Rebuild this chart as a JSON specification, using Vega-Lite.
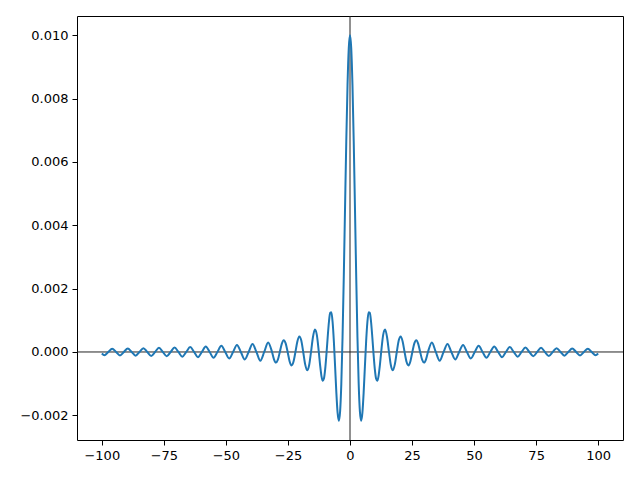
{
  "$schema": "https://vega.github.io/schema/vega-lite/v6.json",
  "width": 546,
  "height": 424,
  "autosize": {"type": "none"},
  "padding": {"left": 77, "top": 16, "right": 17, "bottom": 40},
  "background": "white",
  "data": {
    "values": [
      {"x": -100, "y": -0.000051},
      {"x": -98.96, "y": -0.000101},
      {"x": -97.39, "y": 0},
      {"x": -95.82, "y": 0.000104},
      {"x": -94.25, "y": 0},
      {"x": -92.68, "y": -0.000108},
      {"x": -91.11, "y": 0},
      {"x": -89.54, "y": 0.000112},
      {"x": -87.96, "y": 0},
      {"x": -86.39, "y": -0.000116},
      {"x": -84.82, "y": 0},
      {"x": -83.25, "y": 0.00012},
      {"x": -81.68, "y": 0},
      {"x": -80.11, "y": -0.000125},
      {"x": -78.54, "y": 0},
      {"x": -76.97, "y": 0.00013},
      {"x": -75.4, "y": 0},
      {"x": -73.83, "y": -0.000135},
      {"x": -72.26, "y": 0},
      {"x": -70.69, "y": 0.000141},
      {"x": -69.12, "y": 0},
      {"x": -67.54, "y": -0.000148},
      {"x": -65.97, "y": 0},
      {"x": -64.4, "y": 0.000155},
      {"x": -62.83, "y": 0},
      {"x": -61.26, "y": -0.000163},
      {"x": -59.69, "y": 0},
      {"x": -58.12, "y": 0.000172},
      {"x": -56.55, "y": 0},
      {"x": -54.98, "y": -0.000182},
      {"x": -53.41, "y": 0},
      {"x": -51.84, "y": 0.000193},
      {"x": -50.27, "y": 0},
      {"x": -48.69, "y": -0.000205},
      {"x": -47.12, "y": 0},
      {"x": -45.55, "y": 0.00022},
      {"x": -43.98, "y": 0},
      {"x": -42.41, "y": -0.000236},
      {"x": -40.84, "y": 0},
      {"x": -39.27, "y": 0.000255},
      {"x": -37.7, "y": 0},
      {"x": -36.13, "y": -0.000277},
      {"x": -34.56, "y": 0},
      {"x": -32.99, "y": 0.000303},
      {"x": -31.42, "y": 0},
      {"x": -30.63, "y": -0.000231},
      {"x": -29.85, "y": -0.000335},
      {"x": -29.06, "y": -0.000243},
      {"x": -28.27, "y": 0},
      {"x": -27.49, "y": 0.000257},
      {"x": -26.7, "y": 0.000374},
      {"x": -25.92, "y": 0.000273},
      {"x": -25.13, "y": 0},
      {"x": -24.35, "y": -0.00029},
      {"x": -23.56, "y": -0.000424},
      {"x": -22.78, "y": -0.00031},
      {"x": -21.99, "y": 0},
      {"x": -21.21, "y": 0.000333},
      {"x": -20.42, "y": 0.00049},
      {"x": -19.63, "y": 0.00036},
      {"x": -18.85, "y": 0},
      {"x": -18.06, "y": -0.000392},
      {"x": -17.28, "y": -0.000579},
      {"x": -16.49, "y": -0.000429},
      {"x": -15.71, "y": 0},
      {"x": -14.92, "y": 0.000474},
      {"x": -14.14, "y": 0.000707},
      {"x": -13.35, "y": 0.00053},
      {"x": -12.57, "y": 0},
      {"x": -12, "y": -0.000447},
      {"x": -11.5, "y": -0.000761},
      {"x": -11, "y": -0.000909},
      {"x": -10.5, "y": -0.000838},
      {"x": -10, "y": -0.000544},
      {"x": -9.5, "y": -0.000079},
      {"x": -9, "y": 0.000458},
      {"x": -8.5, "y": 0.000939},
      {"x": -8, "y": 0.001237},
      {"x": -7.5, "y": 0.001251},
      {"x": -7, "y": 0.000939},
      {"x": -6.5, "y": 0.000331},
      {"x": -6, "y": -0.000466},
      {"x": -5.5, "y": -0.001283},
      {"x": -5, "y": -0.001918},
      {"x": -4.5, "y": -0.002172},
      {"x": -4, "y": -0.001892},
      {"x": -3.5, "y": -0.001002},
      {"x": -3, "y": 0.00047},
      {"x": -2.5, "y": 0.002394},
      {"x": -2, "y": 0.004546},
      {"x": -1.5, "y": 0.00665},
      {"x": -1, "y": 0.008415},
      {"x": -0.5, "y": 0.009589},
      {"x": 0, "y": 0.01},
      {"x": 0.5, "y": 0.009589},
      {"x": 1, "y": 0.008415},
      {"x": 1.5, "y": 0.00665},
      {"x": 2, "y": 0.004546},
      {"x": 2.5, "y": 0.002394},
      {"x": 3, "y": 0.00047},
      {"x": 3.5, "y": -0.001002},
      {"x": 4, "y": -0.001892},
      {"x": 4.5, "y": -0.002172},
      {"x": 5, "y": -0.001918},
      {"x": 5.5, "y": -0.001283},
      {"x": 6, "y": -0.000466},
      {"x": 6.5, "y": 0.000331},
      {"x": 7, "y": 0.000939},
      {"x": 7.5, "y": 0.001251},
      {"x": 8, "y": 0.001237},
      {"x": 8.5, "y": 0.000939},
      {"x": 9, "y": 0.000458},
      {"x": 9.5, "y": -0.000079},
      {"x": 10, "y": -0.000544},
      {"x": 10.5, "y": -0.000838},
      {"x": 11, "y": -0.000909},
      {"x": 11.5, "y": -0.000761},
      {"x": 12, "y": -0.000447},
      {"x": 12.57, "y": 0},
      {"x": 13.35, "y": 0.00053},
      {"x": 14.14, "y": 0.000707},
      {"x": 14.92, "y": 0.000474},
      {"x": 15.71, "y": 0},
      {"x": 16.49, "y": -0.000429},
      {"x": 17.28, "y": -0.000579},
      {"x": 18.06, "y": -0.000392},
      {"x": 18.85, "y": 0},
      {"x": 19.63, "y": 0.00036},
      {"x": 20.42, "y": 0.00049},
      {"x": 21.21, "y": 0.000333},
      {"x": 21.99, "y": 0},
      {"x": 22.78, "y": -0.00031},
      {"x": 23.56, "y": -0.000424},
      {"x": 24.35, "y": -0.00029},
      {"x": 25.13, "y": 0},
      {"x": 25.92, "y": 0.000273},
      {"x": 26.7, "y": 0.000374},
      {"x": 27.49, "y": 0.000257},
      {"x": 28.27, "y": 0},
      {"x": 29.06, "y": -0.000243},
      {"x": 29.85, "y": -0.000335},
      {"x": 30.63, "y": -0.000231},
      {"x": 31.42, "y": 0},
      {"x": 32.99, "y": 0.000303},
      {"x": 34.56, "y": 0},
      {"x": 36.13, "y": -0.000277},
      {"x": 37.7, "y": 0},
      {"x": 39.27, "y": 0.000255},
      {"x": 40.84, "y": 0},
      {"x": 42.41, "y": -0.000236},
      {"x": 43.98, "y": 0},
      {"x": 45.55, "y": 0.00022},
      {"x": 47.12, "y": 0},
      {"x": 48.69, "y": -0.000205},
      {"x": 50.27, "y": 0},
      {"x": 51.84, "y": 0.000193},
      {"x": 53.41, "y": 0},
      {"x": 54.98, "y": -0.000182},
      {"x": 56.55, "y": 0},
      {"x": 58.12, "y": 0.000172},
      {"x": 59.69, "y": 0},
      {"x": 61.26, "y": -0.000163},
      {"x": 62.83, "y": 0},
      {"x": 64.4, "y": 0.000155},
      {"x": 65.97, "y": 0},
      {"x": 67.54, "y": -0.000148},
      {"x": 69.12, "y": 0},
      {"x": 70.69, "y": 0.000141},
      {"x": 72.26, "y": 0},
      {"x": 73.83, "y": -0.000135},
      {"x": 75.4, "y": 0},
      {"x": 76.97, "y": 0.00013},
      {"x": 78.54, "y": 0},
      {"x": 80.11, "y": -0.000125},
      {"x": 81.68, "y": 0},
      {"x": 83.25, "y": 0.00012},
      {"x": 84.82, "y": 0},
      {"x": 86.39, "y": -0.000116},
      {"x": 87.96, "y": 0},
      {"x": 89.54, "y": 0.000112},
      {"x": 91.11, "y": 0},
      {"x": 92.68, "y": -0.000108},
      {"x": 94.25, "y": 0},
      {"x": 95.82, "y": 0.000104},
      {"x": 97.39, "y": 0},
      {"x": 98.96, "y": -0.000101},
      {"x": 100, "y": -0.000051}
    ]
  },
  "layer": [
    {
      "data": {"values": [{}]},
      "mark": {"type": "rule", "color": "#222222", "strokeWidth": 1},
      "encoding": {"x": {"datum": 0, "type": "quantitative"}}
    },
    {
      "data": {"values": [{}]},
      "mark": {"type": "rule", "color": "#222222", "strokeWidth": 1},
      "encoding": {"y": {"datum": 0, "type": "quantitative"}}
    },
    {
      "mark": {"type": "line", "color": "#1f77b4", "strokeWidth": 2, "interpolate": "monotone"},
      "encoding": {
        "x": {
          "field": "x",
          "type": "quantitative",
          "scale": {"domain": [-110, 110], "nice": false, "zero": false},
          "axis": {"title": null, "values": [-100, -75, -50, -25, 0, 25, 50, 75, 100], "format": "d"}
        },
        "y": {
          "field": "y",
          "type": "quantitative",
          "scale": {"domain": [-0.00278, 0.01061], "nice": false, "zero": false},
          "axis": {"title": null, "values": [-0.002, 0, 0.002, 0.004, 0.006, 0.008, 0.01], "format": ".3f"}
        }
      }
    }
  ],
  "config": {
    "view": {"stroke": "#000000", "strokeWidth": 1},
    "axis": {
      "grid": false,
      "domain": false,
      "ticks": true,
      "tickColor": "#000000",
      "tickSize": 5,
      "tickWidth": 1,
      "labelFont": "DejaVu Sans",
      "labelFontSize": 13,
      "labelColor": "#000000",
      "labelPadding": 4,
      "labelFlush": false,
      "labelOverlap": false
    }
  }
}
